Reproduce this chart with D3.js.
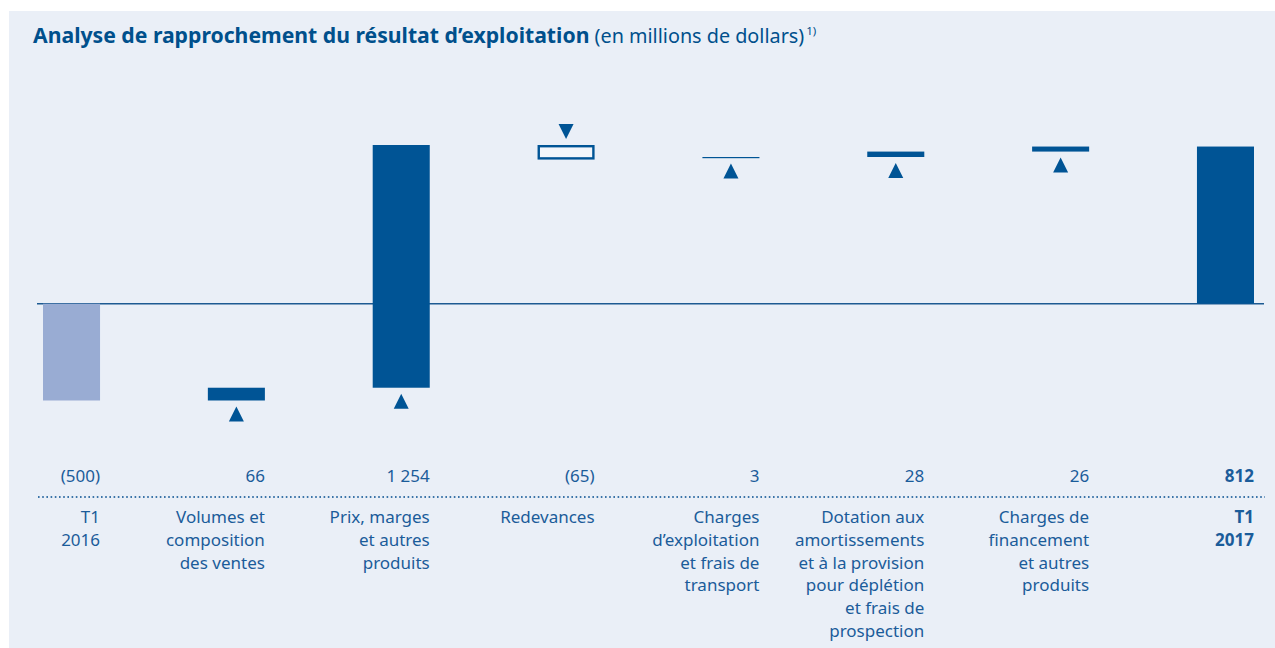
<!DOCTYPE html>
<html><head><meta charset="utf-8">
<script src="https://cdn.jsdelivr.net/npm/d3@7/dist/d3.min.js"></script>
<style>
html,body{margin:0;padding:0;background:#fff;}
svg{display:block;font-family:"Noto Sans",sans-serif;}
</style></head>
<body>
<svg id="chart" width="1275" height="648"></svg>
<script>
// ---- data ----
const categories = ["T1 2016","Volumes","Prix","Redevances","ChargesExpl","Dotation","ChargesFin","T1 2017"];
const values = [-500, 66, 1254, -65, 3, 28, 26, 812];
const kinds = ["start","delta","delta","delta","delta","delta","delta","total"];
const valueLabels = ["(500)","66","1 254","(65)","3","28","26","812"];
const categoryLabels = [
  ["T1","2016"],
  ["Volumes et","composition","des ventes"],
  ["Prix, marges","et autres","produits"],
  ["Redevances"],
  ["Charges","d’exploitation","et frais de","transport"],
  ["Dotation aux","amortissements","et à la provision","pour déplétion","et frais de","prospection"],
  ["Charges de","financement","et autres","produits"],
  ["T1","2017"]
];

const DARK = "#005495", LIGHT = "#99acd3", BG = "#eaeff7", TEXT = "#1b5c9a";

const svg = d3.select("#chart");
svg.append("rect").attr("x",9).attr("y",11).attr("width",1275-9).attr("height",648-11).attr("fill",BG);

// title
const title = svg.append("text").attr("x",33).attr("y",43).attr("fill","#00508c").attr("font-size",21.2);
title.append("tspan").attr("font-weight","bold").text("Analyse de rapprochement du résultat d’exploitation");
title.append("tspan").attr("font-size",19.8).text(" (en millions de dollars)");
title.append("tspan").attr("font-size",11.5).attr("dy",-8).attr("dx",2).text("1)");

// compute waterfall
let run = 0;
const bars = values.map((v,i)=>{
  let y0,y1;
  if(kinds[i]==="start"){ y0=0; y1=v; run=v; }
  else if(kinds[i]==="total"){ y0=0; y1=v; }
  else { y0=run; y1=run+v; run=y1; }
  return {cat:categories[i], v, y0, y1, kind:kinds[i], i};
});

const x = d3.scaleBand().domain(categories).range([43,1254]).paddingInner(0.654).paddingOuter(0);
const y = d3.scaleLinear().domain([-500,820]).range([400.5,145]);

// zero line
svg.append("line").attr("x1",37).attr("x2",1264).attr("y1",y(0)).attr("y2",y(0))
  .attr("stroke","#1d5a92").attr("stroke-width",1.5);

// bars
bars.forEach(b=>{
  const top = Math.min(y(b.y0),y(b.y1)), h = Math.max(Math.abs(y(b.y0)-y(b.y1)),1.2);
  const r = svg.append("rect").attr("x",x(b.cat)).attr("width",x.bandwidth()).attr("y",top).attr("height",h);
  if(b.kind==="start") r.attr("fill",LIGHT);
  else if(b.kind==="delta" && b.v<0) {
    r.attr("x",x(b.cat)+1.2).attr("width",x.bandwidth()-2.4).attr("y",top+1.2).attr("height",h-0.4)
     .attr("fill","#f3f6fb").attr("stroke",DARK).attr("stroke-width",2.4);
  }
  else r.attr("fill",DARK);
  // triangles
  if(b.kind==="delta"){
    const cx = x(b.cat)+x.bandwidth()/2, w=15, th=15, gap=6;
    let p;
    if(b.v>0){
      const yb = Math.max(y(b.y0),y(b.y1)) + gap;
      p = `M${cx-w/2},${yb+th}L${cx+w/2},${yb+th}L${cx},${yb}Z`;
    } else {
      const yt = top - gap - th;
      p = `M${cx-w/2},${yt}L${cx+w/2},${yt}L${cx},${yt+th}Z`;
    }
    svg.append("path").attr("d",p).attr("fill",DARK);
  }
});

// value labels
svg.selectAll("text.val").data(bars).enter().append("text")
  .attr("class","val").attr("x",d=>x(d.cat)+x.bandwidth()).attr("y",481.5)
  .attr("text-anchor","end").attr("font-size",17).attr("fill",TEXT)
  .attr("font-weight",d=>d.kind==="total"?"bold":"normal")
  .text((d,i)=>valueLabels[i]);

// dotted separator
svg.append("line").attr("x1",38).attr("x2",1265).attr("y1",497).attr("y2",497)
  .attr("stroke","#3b74a8").attr("stroke-width",2).attr("stroke-dasharray","1.6,2.6");

// category labels
bars.forEach((b,i)=>{
  const t = svg.append("text").attr("x",x(b.cat)+x.bandwidth()).attr("y",523)
    .attr("text-anchor","end").attr("font-size",17).attr("fill",TEXT)
    .attr("font-weight",b.kind==="total"?"bold":"normal");
  categoryLabels[i].forEach((line,j)=>{
    t.append("tspan").attr("x",x(b.cat)+x.bandwidth()).attr("dy",j===0?0:22.8).text(line);
  });
});
</script>
</body></html>
